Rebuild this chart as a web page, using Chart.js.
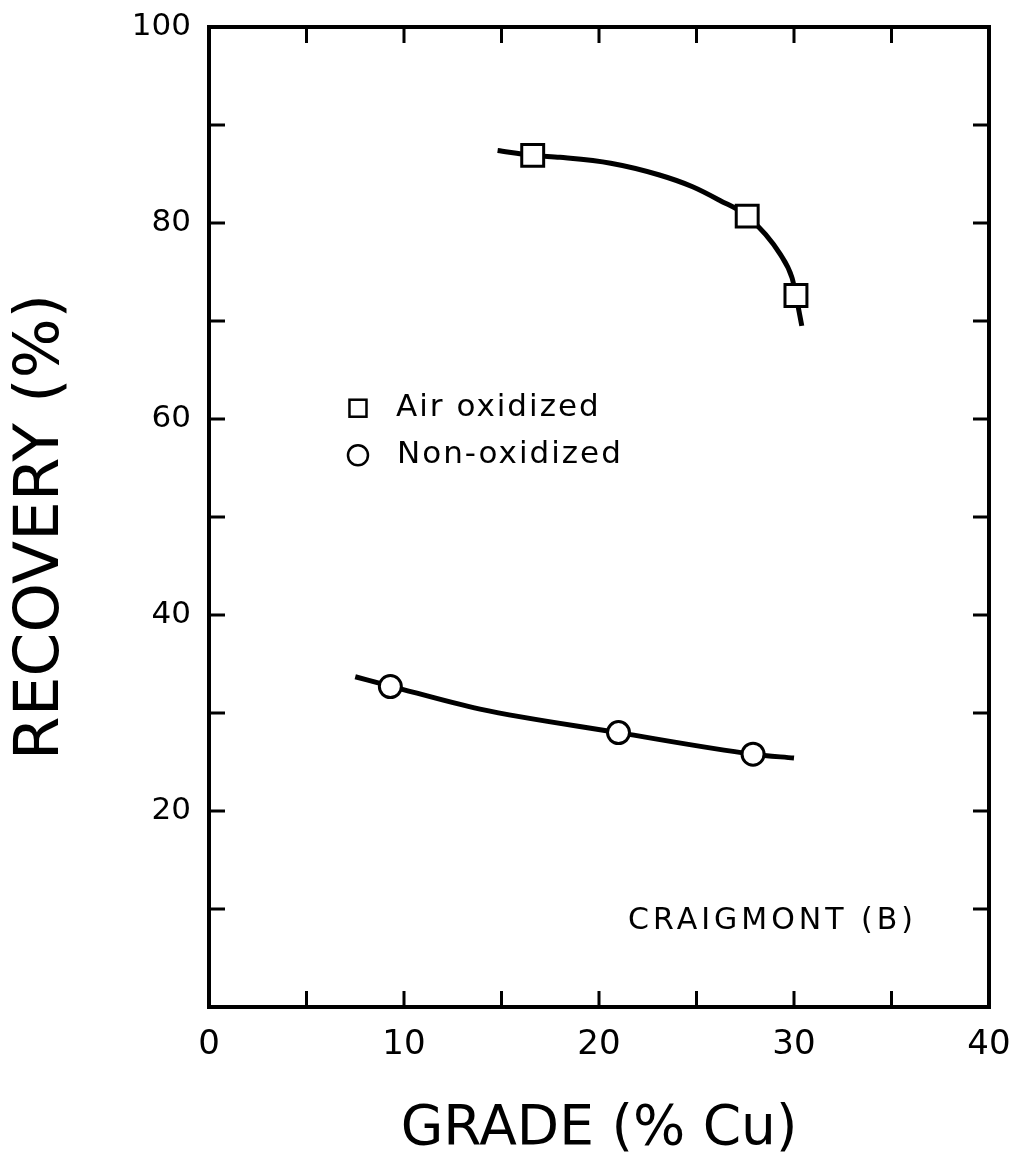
<!DOCTYPE html>
<html>
<head>
<meta charset="utf-8">
<script src="https://cdn.jsdelivr.net/npm/chart.js@4/dist/chart.umd.min.js"></script>
<style>
  html, body { margin: 0; padding: 0; background: #fff; }
  #wrap { width: 1018px; height: 1157px; position: relative; }
</style>
</head>
<body>
<div id="wrap"><canvas id="chart"></canvas></div>
<script>
// values (grade % Cu, recovery %)
const airX = [16.6, 27.6, 30.1];
const airY = [86.9, 80.7, 72.6];
const nonX = [9.3, 21.0, 27.9];
const nonY = [32.7, 28.0, 25.8];

// hand drawn curves through the points
const airCurveX = [14.8, 16.6, 18.0, 20.6, 23.1, 24.8, 26.2, 27.6, 29.3, 29.9, 30.1, 30.4];
const airCurveY = [87.4, 86.9, 86.7, 86.1, 84.9, 83.7, 82.3, 80.7, 76.8, 74.4, 72.6, 69.5];
const nonCurveX = [7.5, 9.3, 13.9, 21.0, 27.9, 30.0];
const nonCurveY = [33.7, 32.75, 30.4, 28.0, 25.8, 25.4];

const xTicks = [0, 10, 20, 30, 40];
const yTicks = [20, 40, 60, 80, 100];

const FONT = "'DejaVu Sans', sans-serif";

function pts(xs, ys) {
    return xs.map(function (v, i) { return {x: v, y: ys[i]}; });
}

// frame, inward ticks on all sides, legend and label
const framePlugin = {
    id: 'frame',
    afterDraw: function (chart) {
        let ctx = chart.ctx;
        let a = chart.chartArea;
        let x = chart.scales.x, y = chart.scales.y;
        ctx.save();
        ctx.strokeStyle = '#000';
        ctx.lineWidth = 4;
        ctx.strokeRect(a.left, a.top, a.right - a.left, a.bottom - a.top);
        ctx.lineWidth = 3;
        let len = 16;
        for (let v = 5; v < 40; v += 5) {
            let px = x.getPixelForValue(v);
            ctx.beginPath();
            ctx.moveTo(px, a.bottom); ctx.lineTo(px, a.bottom - len);
            ctx.moveTo(px, a.top); ctx.lineTo(px, a.top + len);
            ctx.stroke();
        }
        for (let v = 10; v < 100; v += 10) {
            let py = y.getPixelForValue(v);
            ctx.beginPath();
            ctx.moveTo(a.left, py); ctx.lineTo(a.left + len, py);
            ctx.moveTo(a.right, py); ctx.lineTo(a.right - len, py);
            ctx.stroke();
        }

        // legend
        ctx.fillStyle = '#000';
        ctx.font = '31px ' + FONT;
        ctx.textBaseline = 'middle';
        ctx.textAlign = 'left';
        let lx = x.getPixelForValue(7.64);
        let ly1 = y.getPixelForValue(61.1);
        let ly2 = y.getPixelForValue(56.3);
        ctx.lineWidth = 2.5;
        ctx.strokeRect(lx - 8.5, ly1 - 8.5, 17, 17);
        ctx.beginPath();
        ctx.arc(lx, ly2, 10, 0, Math.PI * 2);
        ctx.stroke();
        ctx.letterSpacing = '2px';
        ctx.fillText('Air oxidized', lx + 38, ly1);
        ctx.fillText('Non-oxidized', lx + 39, ly2);

        ctx.font = '30px ' + FONT;
        ctx.letterSpacing = '4px';
        ctx.textAlign = 'center';
        ctx.fillText('CRAIGMONT (B)', x.getPixelForValue(28.9), y.getPixelForValue(8.8));
        ctx.restore();
    }
};

new Chart(document.getElementById('chart').getContext('2d'), {
    type: 'scatter',
    data: {
        datasets: [{
            label: 'Air oxidized',
            data: pts(airX, airY),
            pointStyle: 'rect',
            pointRadius: 15.5,
            pointBorderWidth: 3,
            pointBackgroundColor: '#fff',
            pointBorderColor: '#000',
            showLine: false,
            order: 0
        }, {
            label: 'Non-oxidized',
            data: pts(nonX, nonY),
            pointStyle: 'circle',
            pointRadius: 11,
            pointBorderWidth: 3,
            pointBackgroundColor: '#fff',
            pointBorderColor: '#000',
            showLine: false,
            order: 0
        }, {
            label: 'air curve',
            data: pts(airCurveX, airCurveY),
            showLine: true,
            borderColor: '#000',
            borderWidth: 5,
            pointRadius: 0,
            cubicInterpolationMode: 'monotone',
            order: 1
        }, {
            label: 'non curve',
            data: pts(nonCurveX, nonCurveY),
            showLine: true,
            borderColor: '#000',
            borderWidth: 5,
            pointRadius: 0,
            cubicInterpolationMode: 'monotone',
            order: 1
        }]
    },
    options: {
        responsive: true,
        maintainAspectRatio: false,
        animation: false,
        layout: { padding: { left: 0, right: 29, top: 27, bottom: 0 } },
        plugins: {
            legend: { display: false },
            tooltip: { enabled: false }
        },
        scales: {
            x: {
                type: 'linear',
                min: 0, max: 40,
                afterBuildTicks: function (s) { s.ticks = xTicks.map(function (v) { return {value: v}; }); },
                afterFit: function (s) { s.height = 150; s.paddingLeft = 0; s.paddingRight = 0; },
                grid: { display: false, drawTicks: false },
                border: { display: false },
                ticks: { color: '#000', font: { family: FONT, size: 34 }, padding: 18 },
                title: {
                    display: true, text: 'GRADE (% Cu)', color: '#000',
                    font: { family: FONT, size: 55, lineHeight: 1 }, padding: { top: 0, bottom: 0 }
                }
            },
            y: {
                type: 'linear',
                min: 0, max: 100,
                afterBuildTicks: function (s) { s.ticks = yTicks.map(function (v) { return {value: v}; }); },
                afterFit: function (s) { s.width = 209; s.paddingTop = 0; s.paddingBottom = 0; },
                grid: { display: false, drawTicks: false },
                border: { display: false },
                ticks: { color: '#000', font: { family: FONT, size: 31 }, padding: 18 },
                title: {
                    display: true, text: 'RECOVERY (%) ', color: '#000',
                    font: { family: FONT, size: 63 }, padding: { top: 4, bottom: 0 }
                }
            }
        }
    },
    plugins: [framePlugin]
});
</script>
</body>
</html>
